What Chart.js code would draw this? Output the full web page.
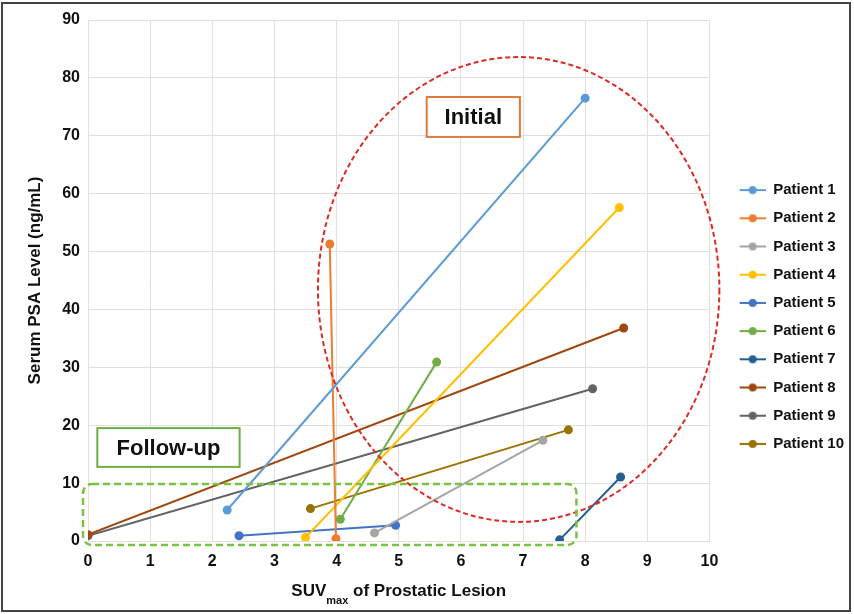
<!DOCTYPE html>
<html lang="en">
<head>
    <meta charset="UTF-8">
    <title>SUVmax vs PSA</title>
    <script src="https://cdn.jsdelivr.net/npm/chart.js"></script>
</head>
<body style="margin: 0; background: #fff;">
    <canvas id="psaChart" width="854" height="614"></canvas>
    <script>
        // values (follow-up point first, then initial point)
        const patients = ['Patient 1', 'Patient 2', 'Patient 3', 'Patient 4', 'Patient 5',
                          'Patient 6', 'Patient 7', 'Patient 8', 'Patient 9', 'Patient 10'];
        const suvFollowUp = [2.24, 3.99, 4.61, 3.5, 2.43, 4.06, 7.59, 0, 0, 3.58];
        const psaFollowUp = [5.35, 0.4, 1.4, 0.6, 0.9, 3.75, 0.2, 1.1, 0.9, 5.6];
        const suvInitial = [8.0, 3.89, 7.32, 8.55, 4.95, 5.61, 8.57, 8.62, 8.12, 7.73];
        const psaInitial = [76.5, 51.3, 17.4, 57.6, 2.7, 30.9, 11.05, 36.8, 26.3, 19.2];
        const colors = ['#5b9bd5', '#ed7d31', '#a5a5a5', '#ffc000', '#4472c4',
                        '#70ad47', '#255e91', '#9e480e', '#636363', '#997300'];

        const xTicks = [0, 1, 2, 3, 4, 5, 6, 7, 8, 9, 10];
        const yTicks = [0, 10, 20, 30, 40, 50, 60, 70, 80, 90];

        // annotation shapes, in axis units
        const initialZone = { cx: 6.93, cy: 43.45, rx: 3.23, ry: 40.15 };
        const followUpZone = { x1: -0.08, x2: 7.86, y1: -0.7, y2: 9.85 };
        const initialLabel = { text: 'Initial', x1: 5.45, x2: 6.95, y1: 69.8, y2: 76.7 };
        const followUpLabel = { text: 'Follow-up', x1: 0.15, x2: 2.44, y1: 12.8, y2: 19.5 };

        const FONT = '"Liberation Sans", Arial, sans-serif';
        Chart.defaults.font.family = FONT;

        // legend marker: short line with a dot (left part of canvas left blank as spacing)
        function legendMarker(color) {
            const c = document.createElement('canvas');
            c.width = 43; c.height = 10;
            const g = c.getContext('2d');
            g.strokeStyle = color;
            g.lineWidth = 2;
            g.beginPath(); g.moveTo(17, 5); g.lineTo(43, 5); g.stroke();
            g.fillStyle = color;
            g.beginPath(); g.arc(30, 5, 4, 0, Math.PI * 2); g.fill();
            return c;
        }
        const markers = colors.map(legendMarker);

        const datasets = patients.map((name, i) => ({
            label: name,
            data: [
                { x: suvFollowUp[i], y: psaFollowUp[i] },
                { x: suvInitial[i], y: psaInitial[i] }
            ],
            showLine: true,
            borderColor: colors[i],
            backgroundColor: colors[i],
            borderWidth: 2,
            pointRadius: 4.5,
            pointBorderWidth: 0,
            pointHoverRadius: 4.5
        }));

        const extras = {
            id: 'extras',
            afterDatasetsDraw(chart) {
                const ctx = chart.ctx;
                const xs = chart.scales.x, ys = chart.scales.y;
                const px = v => xs.getPixelForValue(v);
                const py = v => ys.getPixelForValue(v);

                ctx.save();
                // red dashed ellipse
                ctx.strokeStyle = '#dc2b24';
                ctx.lineWidth = 2;
                ctx.setLineDash([5, 3]);
                ctx.beginPath();
                ctx.ellipse(px(initialZone.cx), py(initialZone.cy),
                    px(initialZone.cx + initialZone.rx) - px(initialZone.cx),
                    py(initialZone.cy) - py(initialZone.cy + initialZone.ry),
                    0, 0, Math.PI * 2);
                ctx.stroke();

                // green dashed rounded box
                ctx.strokeStyle = '#7cc242';
                ctx.lineWidth = 2.5;
                ctx.setLineDash([7, 4]);
                ctx.beginPath();
                ctx.roundRect(px(followUpZone.x1), py(followUpZone.y2),
                    px(followUpZone.x2) - px(followUpZone.x1),
                    py(followUpZone.y1) - py(followUpZone.y2), 9);
                ctx.stroke();
                ctx.setLineDash([]);

                // label boxes
                [[initialLabel, '#e07b39'], [followUpLabel, '#70ad47']].forEach(([b, col]) => {
                    const l = px(b.x1), t = py(b.y2), w = px(b.x2) - l, h = py(b.y1) - t;
                    ctx.fillStyle = '#fff';
                    ctx.fillRect(l, t, w, h);
                    ctx.strokeStyle = col;
                    ctx.lineWidth = 2;
                    ctx.strokeRect(l, t, w, h);
                    ctx.fillStyle = '#111';
                    ctx.font = 'bold 22px ' + FONT;
                    ctx.textAlign = 'center';
                    ctx.textBaseline = 'middle';
                    ctx.fillText(b.text, l + w / 2, t + h / 2 + 1);
                });
                ctx.restore();
            },
            afterDraw(chart) {
                const ctx = chart.ctx;
                const area = chart.chartArea;
                ctx.save();
                // x axis title with subscript
                const big = 'bold 17px ' + FONT, small = 'bold 11px ' + FONT;
                const parts = [['SUV', big, 0], ['max', small, 8], [' of Prostatic Lesion', big, 0]];
                let total = 0;
                parts.forEach(p => { ctx.font = p[1]; total += ctx.measureText(p[0]).width; });
                let x = (area.left + area.right) / 2 - total / 2;
                ctx.fillStyle = '#111';
                ctx.textBaseline = 'alphabetic';
                ctx.textAlign = 'left';
                parts.forEach(p => {
                    ctx.font = p[1];
                    ctx.fillText(p[0], x, 596 + p[2]);
                    x += ctx.measureText(p[0]).width;
                });
                // outer frame
                ctx.strokeStyle = '#444';
                ctx.lineWidth = 2;
                ctx.strokeRect(2, 3, 848, 608);
                ctx.restore();
            }
        };

        const ctx = document.getElementById('psaChart').getContext('2d');
        new Chart(ctx, {
            type: 'scatter',
            data: { datasets: datasets },
            options: {
                responsive: false,
                animation: false,
                layout: { padding: { top: 20, left: 0, right: 0, bottom: 0 } },
                scales: {
                    x: {
                        type: 'linear',
                        min: 0,
                        max: 10,
                        afterBuildTicks: s => { s.ticks = xTicks.map(v => ({ value: v })); },
                        afterFit: s => { s.height = 73; },
                        grid: { color: '#e3dfdf', drawTicks: false },
                        border: { color: '#e3dfdf' },
                        ticks: { padding: 11, color: '#111', font: { size: 16, weight: 'bold' } }
                    },
                    y: {
                        min: 0,
                        max: 90,
                        afterBuildTicks: s => { s.ticks = yTicks.map(v => ({ value: v })); },
                        afterFit: s => { s.width = 88; },
                        grid: { color: '#e3dfdf', drawTicks: false },
                        border: { color: '#e3dfdf' },
                        ticks: { padding: 8, color: '#111', font: { size: 16, weight: 'bold' } },
                        title: {
                            display: true,
                            text: 'Serum PSA Level (ng/mL)',
                            color: '#111',
                            font: { size: 17, weight: 'bold' },
                            padding: { top: 25, bottom: 0 }
                        }
                    }
                },
                plugins: {
                    tooltip: { enabled: false },
                    legend: {
                        position: 'right',
                        labels: {
                            usePointStyle: true,
                            pointStyleWidth: 43,
                            padding: 13.2,
                            color: '#111',
                            font: { size: 15, weight: 'bold' },
                            generateLabels: chart => {
                                const items = Chart.defaults.plugins.legend.labels.generateLabels(chart);
                                items.forEach((it, i) => { it.pointStyle = markers[i]; });
                                return items;
                            }
                        }
                    }
                }
            },
            plugins: [extras]
        });
    </script>
</body>
</html>
